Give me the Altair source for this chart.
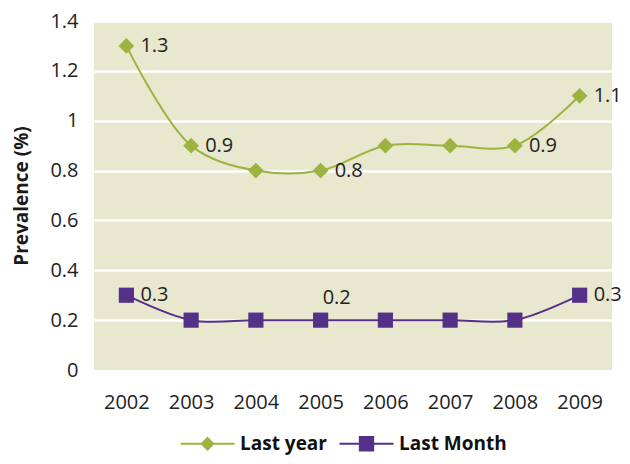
import altair as alt
import pandas as pd

years = ["2002", "2003", "2004", "2005", "2006", "2007", "2008", "2009"]
last_year = [1.3, 0.9, 0.8, 0.8, 0.9, 0.9, 0.9, 1.1]
last_month = [0.3, 0.2, 0.2, 0.2, 0.2, 0.2, 0.2, 0.3]
series_names = ["Last year", "Last Month"]
series_colors = ["#9db33f", "#553089"]
y_ticks = [0, 0.2, 0.4, 0.6, 0.8, 1, 1.2, 1.4]

# which points carry a value label, and where
last_year_labeled = ["2002", "2003", "2005", "2008", "2009"]
last_month_labeled_right = ["2002", "2009"]
last_month_labeled_above = ["2005"]

rows = []
for yr, v in zip(years, last_year):
    rows.append({"year": yr, "series": "Last year", "value": v,
                 "lab": "right" if yr in last_year_labeled else "",
                 "text": str(v)})
for yr, v in zip(years, last_month):
    lab = ""
    if yr in last_month_labeled_right:
        lab = "right"
    elif yr in last_month_labeled_above:
        lab = "above"
    rows.append({"year": yr, "series": "Last Month", "value": v,
                 "lab": lab, "text": str(v)})
df = pd.DataFrame(rows)

FONT = "Open Sans"
color_scale = alt.Scale(domain=series_names, range=series_colors)

x_enc = alt.X("year:O", title=None, sort=years,
              scale=alt.Scale(padding=0.5),
              axis=alt.Axis(labelAngle=0, labelFontSize=20, labelFont=FONT,
                            labelColor="#222222", labelPadding=22,
                            ticks=False, domain=False, grid=False))
y_enc = alt.Y("value:Q", title="Prevalence (%)",
              scale=alt.Scale(domain=[0, 1.4], nice=False, zero=True),
              axis=alt.Axis(values=y_ticks, format="~g", labelFontSize=20,
                            labelFont=FONT, labelColor="#222222",
                            labelPadding=16, ticks=False, domain=False,
                            grid=True, gridColor="white", gridWidth=2.5,
                            gridOpacity={"condition": {"test": "datum.value === 0", "value": 0}, "value": 1},
                            titleFont=FONT, titleFontSize=19,
                            titleFontWeight="bold", titleColor="#1a1a1a",
                            titlePadding=18))
c_enc = alt.Color("series:N", scale=color_scale, legend=alt.Legend(title=None))

base = alt.Chart(df).encode(x=x_enc, y=y_enc, color=c_enc)

lines = base.mark_line(interpolate="catmull-rom", strokeWidth=2)

pts_year = base.mark_point(filled=True, opacity=1, size=250, shape="diamond").transform_filter(
    alt.datum.series == "Last year")
pts_month = base.mark_point(filled=True, opacity=1, size=230, shape="square").transform_filter(
    alt.datum.series == "Last Month")

lab_right = base.mark_text(align="left", baseline="middle", dx=14, fontSize=20,
                           font=FONT).encode(
    text="text:N", color=alt.value("#222222")).transform_filter(alt.datum.lab == "right")
lab_above = base.mark_text(align="left", baseline="middle", dx=2, dy=-22, fontSize=20,
                           font=FONT).encode(
    text="text:N", color=alt.value("#222222")).transform_filter(alt.datum.lab == "above")

path_year = "M-3,-0.11L3,-0.11L3,0.11L-3,0.11Z M0,-0.8L0.8,0L0,0.8L-0.8,0Z"
path_month = "M-3,-0.11L3,-0.11L3,0.11L-3,0.11Z M-0.85,-0.85L0.85,-0.85L0.85,0.85L-0.85,0.85Z"

legend_layer = alt.Chart(df).mark_point(filled=True, opacity=1).encode(
    shape=alt.Shape("series:N", scale=alt.Scale(domain=series_names, range=[path_year, path_month]),
                    legend=alt.Legend(title=None)),
    color=alt.Color("series:N", scale=color_scale, legend=alt.Legend(title=None)),
).transform_filter("false")

chart = alt.layer(lines, pts_year, pts_month, lab_right, lab_above, legend_layer).properties(
    width=518, height=349,
    autosize=alt.AutoSizeParams(type="none"),
    padding={"left": 86, "top": 13, "right": 10, "bottom": 86},
    view=alt.ViewBackground(fill="#e8e8cf", strokeWidth=0),
).configure_view(fill="#e8e8cf", strokeWidth=0).configure_legend(
    orient="none", legendX=104, legendY=413, direction="horizontal",
    symbolSize=324, symbolStrokeWidth=0, labelFont=FONT, labelFontSize=19,
    labelFontWeight="bold", labelColor="#111111", labelOffset=23,
    columnPadding=12, padding=0, symbolOpacity=1, labelLimit=300)

chart.save("out.html", embed_options={"renderer": "svg", "actions": False})
